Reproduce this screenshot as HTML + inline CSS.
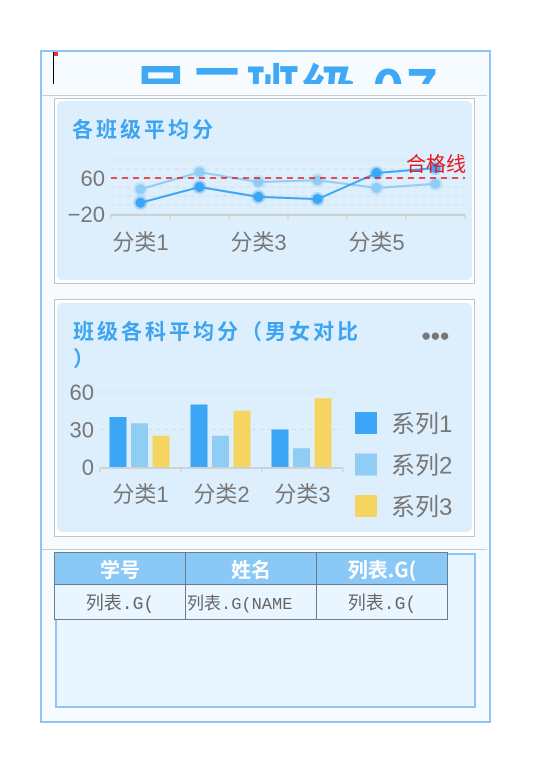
<!DOCTYPE html>
<html><head><meta charset="utf-8">
<style>
body{margin:0;width:538px;height:775px;background:#fff;position:relative;font-family:"Liberation Sans","Noto Sans CJK SC",sans-serif;overflow:hidden}
.abs{position:absolute}
</style></head><body>
<div class="abs" style="left:40px;top:50px;width:447px;height:669px;border:2px solid #90c4f4;background:#f6fbff"></div>
<div class="abs" style="left:42px;top:52px;width:445px;height:32px;overflow:hidden">
  <div class="abs" style="left:92px;top:-6px;font-size:54px;font-weight:bold;color:#3fa9f5;white-space:nowrap;letter-spacing:2px;font-family:'Noto Sans CJK SC',sans-serif">目三班级 07</div>
</div>
<div class="abs" style="left:53px;top:52px;width:1px;height:32px;background:#000"></div>
<div class="abs" style="left:54px;top:52px;width:4px;height:4px;background:#e33"></div>
<div class="abs" style="left:42px;top:95px;width:445px;height:1px;background:#ccc"></div>

<div class="abs" style="left:54px;top:98px;width:419px;height:184px;border:1px solid #c4c4c4;background:#fff"></div>
<div class="abs" style="left:57px;top:101px;width:415px;height:179px;border-radius:5px;background:#ddeefc"></div>
<div class="abs" style="left:72px;top:114px;font-size:21px;letter-spacing:3px;font-weight:bold;color:#3ca4f0;font-family:'Noto Sans CJK SC',sans-serif">各班级平均分</div>
<svg class="abs" id="lc" style="left:0;top:0" width="538" height="300"></svg>

<div class="abs" style="left:54px;top:299px;width:419px;height:236px;border:1px solid #c4c4c4;background:#fff"></div>
<div class="abs" style="left:57px;top:303px;width:415px;height:229px;border-radius:5px;background:#ddeefc"></div>
<div class="abs" style="left:73px;top:318px;width:300px;font-size:21px;letter-spacing:3px;line-height:27px;font-weight:bold;color:#3ca4f0;font-family:'Noto Sans CJK SC',sans-serif">班级各科平均分（男女对比<br>）</div>
<div class="abs" style="left:421px;top:326px;font-size:17px;color:#777;letter-spacing:-1px">●●●</div>
<svg class="abs" id="bc" style="left:0;top:0" width="538" height="540"></svg>

<div class="abs" style="left:42px;top:549px;width:445px;height:1px;background:#ccc"></div>
<div class="abs" style="left:55px;top:553px;width:417px;height:151px;border:2px solid #90c4f4;background:#eaf6ff"></div>
<table class="abs" style="left:54px;top:552px;border-collapse:collapse;table-layout:fixed;width:388px;font-family:'Liberation Mono','Noto Sans CJK SC',monospace">
<tr style="height:31px;background:#8ac8f8;color:#fff;font-weight:bold;font-size:20px">
<th style="width:128px;border:1px solid #6b7b8a;font-family:'Noto Sans CJK SC',sans-serif">学号</th>
<th style="width:128px;border:1px solid #6b7b8a;font-family:'Noto Sans CJK SC',sans-serif">姓名</th>
<th style="width:128px;border:1px solid #6b7b8a;vertical-align:top;font-family:'Noto Sans CJK SC',sans-serif">列表.G(</th></tr>
<tr style="height:35px;background:#eaf6ff;color:#666;font-size:18px">
<td style="border:1px solid #6b7b8a;text-align:center">列表.G(</td>
<td style="border:1px solid #6b7b8a;text-align:left;white-space:nowrap;overflow:hidden;font-size:17px">列表.G(NAME</td>
<td style="border:1px solid #6b7b8a;text-align:center">列表.G(</td></tr>
</table>

<script>
const lineCats=["分类1","分类2","分类3","分类4","分类5","分类6"];
const lineS1=[5,40,18,13,71,82];
const lineS2=[35,73,51,55,38,47];
const lineTicks=[-20,0,20,40,60,80,100];
const lineLabels=[-20,60];
const passLine=60;

const barCats=["分类1","分类2","分类3"];
const barS1=[40,50,30];
const barS2=[35,25,15];
const barS3=[25,45,55];
const barTicks=[0,30,60];
const legendNames=["系列1","系列2","系列3"];

const NS="http://www.w3.org/2000/svg";
function mk(p,t,a){const e=document.createElementNS(NS,t);for(const k in a)e.setAttribute(k,a[k]);p.appendChild(e);return e;}
const F='"Liberation Sans","Noto Sans CJK SC",sans-serif';

const lc=document.getElementById('lc');
const lx0=111,lx1=465,lyb=214,lyt=160;
const lstep=(lx1-lx0)/lineCats.length;
const lX=i=>lx0+lstep*(i+0.5);
const lY=v=>lyb-(v-(-20))/120*(lyb-lyt);
lineTicks.forEach(t=>{const g=mk(lc,'line',{x1:lx0,x2:lx1,y1:lY(t),y2:lY(t),stroke:'#d3dee8','stroke-dasharray':'4,4','stroke-width':1});
});
mk(lc,'line',{x1:lx0,x2:lx1,y1:lyb+1,y2:lyb+1,stroke:'#c8c8c8','stroke-width':1.5});
for(let i=0;i<=lineCats.length;i++)mk(lc,'line',{x1:lx0+lstep*i,x2:lx0+lstep*i,y1:lyb+1,y2:lyb+5,stroke:'#c8c8c8'});
lineLabels.forEach(t=>{const e=mk(lc,'text',{x:105,y:lY(t)+8,'text-anchor':'end','font-size':22,fill:'#777','font-family':F});e.textContent=String(t).replace('-','−');
});
lineCats.forEach((c,i)=>{if(i%2)return;const e=mk(lc,'text',{x:lX(i),y:250,'text-anchor':'middle','font-size':22,fill:'#777','font-family':F});e.textContent=c;
});
function series(d,col,name){const pl=mk(lc,'polyline',{points:d.map((v,i)=>lX(i)+','+lY(v)).join(' '),fill:'none',stroke:col,'stroke-width':2});

d.forEach((v,i)=>{mk(lc,'circle',{cx:lX(i),cy:lY(v),r:7,fill:col,opacity:0.35});const c=mk(lc,'circle',{cx:lX(i),cy:lY(v),r:5,fill:col});
});}
series(lineS2,'#8fcdf5','series2');
series(lineS1,'#3aa6f5','series1');
const pl=mk(lc,'line',{x1:lx0,x2:lx1,y1:lY(passLine),y2:lY(passLine),stroke:'#e8161c','stroke-width':1.5,'stroke-dasharray':'6,5'});

const pt=mk(lc,'text',{x:466,y:lY(passLine)-7,'text-anchor':'end','font-size':20,fill:'#e8161c','font-family':F});pt.textContent='合格线';


const bc=document.getElementById('bc');
const bx0=100,bx1=343,byb=467;
const bstep=(bx1-bx0)/barCats.length;
const bY=v=>byb-v*1.25;
barTicks.forEach(t=>{if(t>0)mk(bc,'line',{x1:bx0,x2:bx1,y1:bY(t),y2:bY(t),stroke:'#d3dfea','stroke-dasharray':'4,4'});
const e=mk(bc,'text',{x:94,y:bY(t)+8,'text-anchor':'end','font-size':22,fill:'#777','font-family':F});e.textContent=t;
});
mk(bc,'line',{x1:bx0,x2:bx1,y1:byb+1,y2:byb+1,stroke:'#c8c8c8','stroke-width':1.5});
for(let i=0;i<=barCats.length;i++)mk(bc,'line',{x1:bx0+bstep*i,x2:bx0+bstep*i,y1:byb+1,y2:byb+5,stroke:'#c8c8c8'});
const cols=['#3aa6f5','#90cdf4','#f5d462'];
[barS1,barS2,barS3].forEach((s,k)=>s.forEach((v,i)=>{const x=bx0+bstep*i+9.5+k*21.5;
const r=mk(bc,'rect',{x:x,y:bY(v),width:17,height:v*1.25,fill:cols[k]});
}));
barCats.forEach((c,i)=>{const e=mk(bc,'text',{x:bx0+bstep*(i+0.5),y:502,'text-anchor':'middle','font-size':22,fill:'#777','font-family':F});e.textContent=c;
});
legendNames.forEach((n,k)=>{const y=412+k*41.5;
const r=mk(bc,'rect',{x:355,y:y,width:22,height:22,fill:cols[k]});
const e=mk(bc,'text',{x:391,y:y+20,'font-size':24,fill:'#777','font-family':F});e.textContent=n;
});
</script>
</body></html>
